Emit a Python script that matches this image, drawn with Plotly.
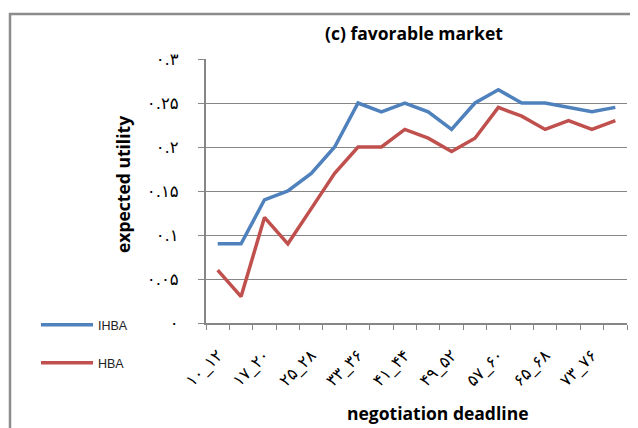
import plotly.graph_objects as go

categories = ["10_12", "13_16", "17_20", "21_24", "25_28", "29_32", "33_36", "37_40", "41_44",
              "45_48", "49_52", "53_56", "57_60", "61_64", "65_68", "69_72", "73_76", "77_80"]
ihba = [0.09, 0.09, 0.14, 0.15, 0.17, 0.20, 0.25, 0.24, 0.25, 0.24, 0.22, 0.25,
        0.265, 0.25, 0.25, 0.245, 0.24, 0.245]
hba = [0.06, 0.03, 0.12, 0.09, 0.13, 0.17, 0.20, 0.20, 0.22, 0.21, 0.195, 0.21,
       0.245, 0.235, 0.22, 0.23, 0.22, 0.23]
y_ticks = [0, 0.05, 0.1, 0.15, 0.2, 0.25, 0.3]

fa = str.maketrans("0123456789", "۰۱۲۳۴۵۶۷۸۹")
def to_fa(s):
    return s.translate(fa)

x_ticktext = [to_fa(c) if i % 2 == 0 else "" for i, c in enumerate(categories)]
y_ticktext = [to_fa("%g" % v) for v in y_ticks]

# the page body adds an 8px offset; the figure is sized to fill the rest of the window
OFF = 8
W, H = 638 - OFF, 428 - OFF
L, R, T, B = 206 - OFF, 11, 59 - OFF, 105
pw, ph = W - L - R, H - T - B
def px(x):
    return (x - OFF - L) / pw
def py(y):
    return (H - B - (y - OFF)) / ph
def cx(x):
    return (x - OFF) / W
def cy(y):
    return 1 - (y - OFF) / H

grey = "#868686"
fig = go.Figure()
fig.add_trace(go.Scatter(x=categories, y=ihba, mode="lines", name="IHBA",
                         line=dict(color="#4f81bd", width=3.5), legend="legend"))
fig.add_trace(go.Scatter(x=categories, y=hba, mode="lines", name="HBA",
                         line=dict(color="#c0504d", width=3.5), legend="legend2"))

leg_font = dict(family="Liberation Sans", size=12.5, color="#222")
fig.update_layout(
    width=W, height=H,
    margin=dict(l=L, r=R, t=T, b=B, autoexpand=False),
    paper_bgcolor="white", plot_bgcolor="white",
    showlegend=True,
    legend=dict(xref="container", yref="container", x=cx(36), y=cy(325),
                xanchor="left", yanchor="middle", bgcolor="rgba(0,0,0,0)",
                itemwidth=52, font=leg_font),
    legend2=dict(xref="container", yref="container", x=cx(36), y=cy(363),
                 xanchor="left", yanchor="middle", bgcolor="rgba(0,0,0,0)",
                 itemwidth=52, font=leg_font),
    xaxis=dict(type="category", tickmode="array", tickvals=categories, ticktext=x_ticktext,
               tickson="boundaries", ticks="outside", ticklen=5, tickcolor=grey, tickwidth=1,
               showline=True, linecolor=grey, linewidth=2, showgrid=False,
               tickangle=-45, ticklabelstandoff=14, automargin=False,
               tickfont=dict(family="DejaVu Sans", size=16.5, color="black"),
               range=[-0.5, 17.5], fixedrange=True),
    yaxis=dict(range=[0, 0.3], tickmode="array", tickvals=y_ticks, ticktext=y_ticktext,
               ticks="outside", ticklen=6, tickcolor=grey, tickwidth=1,
               showline=True, linecolor=grey, linewidth=2, automargin=False,
               showgrid=True, gridcolor=grey, gridwidth=1, zeroline=False,
               ticklabelstandoff=16,
               tickfont=dict(family="DejaVu Sans", size=16.5, color="black")),
    annotations=[
        dict(text="<b>(c) favorable market</b>", xref="paper", yref="paper",
             x=px(414), y=py(33), showarrow=False, xanchor="center", yanchor="middle",
             font=dict(family="Open Sans", size=17.5, color="black")),
        dict(text="<b>expected utility</b>", xref="paper", yref="paper",
             x=px(123), y=py(185), showarrow=False, textangle=-90,
             xanchor="center", yanchor="middle",
             font=dict(family="Open Sans", size=17.5, color="black")),
        dict(text="<b>negotiation deadline</b>", xref="paper", yref="paper",
             x=px(437), y=py(413), showarrow=False, xanchor="center", yanchor="middle",
             font=dict(family="Open Sans", size=17.5, color="black")),
    ],
    shapes=[
        dict(type="rect", xref="paper", yref="paper", x0=px(10), x1=px(720),
             y0=py(520), y1=py(14), line=dict(color="#8c8c8c", width=2.5), layer="below"),
    ],
)

fig.write_html("out.html")
